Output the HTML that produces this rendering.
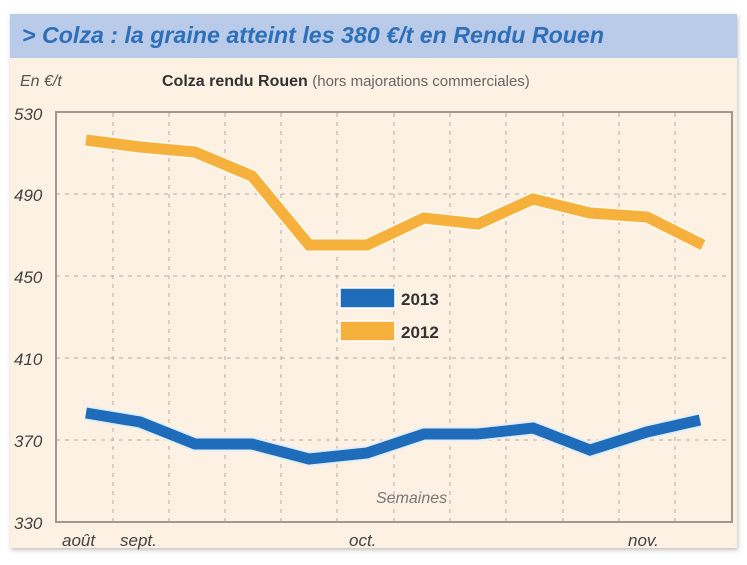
<!DOCTYPE html>
<html><head><meta charset="utf-8"><style>
body{margin:0;width:747px;height:560px;background:#fff;overflow:hidden;font-family:"Liberation Sans",sans-serif}
</style></head><body>
<svg width="747" height="560" viewBox="0 0 747 560" xmlns="http://www.w3.org/2000/svg">
<defs><filter id="sh" x="-5%" y="-5%" width="110%" height="110%"><feDropShadow dx="1" dy="2" stdDeviation="2" flood-color="#000" flood-opacity="0.25"/></filter></defs>
<rect x="10" y="14" width="727" height="534" fill="#fdf1e3" filter="url(#sh)"/>
<rect x="10" y="14" width="727" height="44" fill="#b9cbe8"/>
<text x="22" y="43" font-size="23" font-style="italic" font-weight="bold" fill="#2d6fb8" textLength="582" lengthAdjust="spacingAndGlyphs">&gt; Colza : la graine atteint les 380 €/t en Rendu Rouen</text>
<text x="20" y="86" font-size="16" font-style="italic" fill="#555">En €/t</text>
<text x="162" y="86" font-size="16" font-weight="bold" fill="#333">Colza rendu Rouen <tspan font-weight="normal" fill="#666" font-size="15">(hors majorations commerciales)</tspan></text>
<g stroke="#b8aca0" stroke-dasharray="4,5" stroke-width="1">
<line x1="113" y1="113" x2="113" y2="521"/><line x1="169" y1="113" x2="169" y2="521"/><line x1="225" y1="113" x2="225" y2="521"/><line x1="281" y1="113" x2="281" y2="521"/><line x1="337" y1="113" x2="337" y2="521"/><line x1="394" y1="113" x2="394" y2="521"/><line x1="450" y1="113" x2="450" y2="521"/><line x1="506" y1="113" x2="506" y2="521"/><line x1="563" y1="113" x2="563" y2="521"/><line x1="619" y1="113" x2="619" y2="521"/><line x1="675" y1="113" x2="675" y2="521"/>
<line x1="56" y1="194" x2="731" y2="194"/><line x1="56" y1="276" x2="731" y2="276"/><line x1="56" y1="358" x2="731" y2="358"/><line x1="56" y1="440" x2="731" y2="440"/>
</g>
<rect x="56" y="112" width="676" height="410" fill="none" stroke="#a09890" stroke-width="2"/>
<g font-size="17" font-style="italic" fill="#444">
<text x="14" y="120">530</text><text x="14" y="201">490</text><text x="14" y="283">450</text><text x="14" y="365">410</text><text x="14" y="447">370</text><text x="14" y="529">330</text>
<text x="62" y="546">août</text><text x="120" y="546">sept.</text><text x="349" y="546">oct.</text><text x="628" y="546">nov.</text>
</g>
<text x="376" y="503" font-size="16" font-style="italic" fill="#777">Semaines</text>
<g fill="none" stroke-linejoin="miter" stroke-linecap="butt">
<polyline points="86,140 140,147 195,152 252,176 309,245 367,245 424,218 478,224 533,199 590,213 647,217 703,245" stroke="#fff6e8" stroke-width="15"/>
<polyline points="86,140 140,147 195,152 252,176 309,245 367,245 424,218 478,224 533,199 590,213 647,217 703,245" stroke="#f6b13c" stroke-width="11"/>
<polyline points="86,413 140,422 195,444 252,444 309,459 367,453 424,434 478,434 533,428 590,450 647,432 700,420" stroke="#e4eef8" stroke-width="15"/>
<polyline points="86,413 140,422 195,444 252,444 309,459 367,453 424,434 478,434 533,428 590,450 647,432 700,420" stroke="#1f6cbb" stroke-width="11"/>
</g>
<rect x="340" y="288" width="55" height="20" fill="#1f6cbb" stroke="#fff" stroke-width="1.5"/>
<rect x="340" y="321" width="55" height="20" fill="#f6b13c" stroke="#fff" stroke-width="1.5"/>
<text x="401" y="305" font-size="17" font-weight="bold" fill="#333">2013</text>
<text x="401" y="338" font-size="17" font-weight="bold" fill="#333">2012</text>
</svg>
</body></html>
